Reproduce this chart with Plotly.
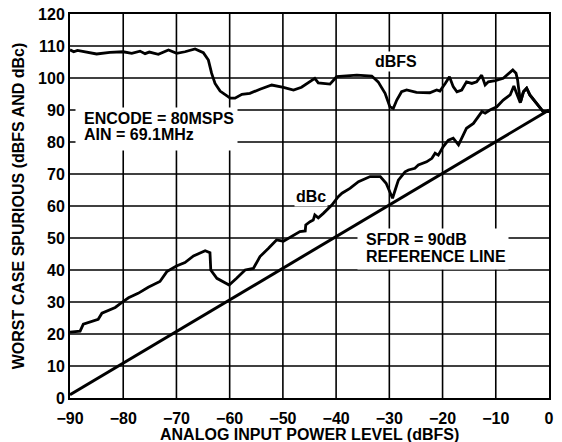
import plotly.graph_objects as go

# ---- data ----
dbfs_x = [-90.0, -89.3, -88.6, -87.0, -85.0, -82.5, -80.0, -78.4, -76.85, -75.9, -75.1, -73.4,
          -71.5, -69.95, -68.4, -66.5, -64.95, -64.0, -63.4, -62.75, -61.8, -59.9, -59.0,
          -57.7, -56.2, -54.3, -52.1, -49.9, -48.0, -46.5, -45.2, -44.0, -43.35, -42.4,
          -41.15, -39.9, -36.1, -33.3, -32.1, -30.8, -29.9, -29.25, -28.6, -27.7, -26.75,
          -24.9, -22.4, -21.1, -20.5, -19.5, -18.7, -18.0, -17.3, -16.4, -15.5, -14.5,
          -13.6, -12.65, -12.0, -11.4, -10.1, -8.6, -7.65, -6.8, -6.2, -5.9, -5.75, -5.6,
          -5.35, -4.8, -4.2, -3.6, -2.6, -1.7, -1.1, 0.0]
dbfs_y = [108.8, 108.2, 108.6, 108.2, 107.5, 108.0, 108.2, 107.7, 108.4, 107.6, 108.1, 107.4,
          108.75, 107.7, 108.2, 109.1, 107.9, 105.6, 101.5, 98.3, 95.9, 93.7, 93.7,
          94.9, 95.2, 96.5, 97.8, 97.1, 96.25, 97.1, 98.5, 99.9, 98.5, 98.3,
          98.1, 100.4, 100.9, 100.6, 98.8, 95.2, 91.0, 90.5, 93.1, 95.7, 96.25,
          95.5, 95.4, 96.25, 95.9, 98.3, 100.4, 97.3, 95.7, 96.25, 98.8, 98.3,
          98.8, 100.9, 97.8, 98.8, 99.2, 99.9, 101.2, 102.5, 101.5, 99.4, 97.3, 94.7,
          92.5, 95.7, 96.8, 94.7, 92.6, 90.5, 89.5, 89.5]

dbc_x = [-90.0, -88.1, -87.5, -86.2, -84.7, -84.0, -83.1, -81.5, -80.3, -79.0, -77.2, -75.3,
         -73.1, -71.8, -70.0, -68.4, -66.8, -64.6, -63.7, -63.55, -62.4, -61.2, -60.1,
         -58.7, -57.1, -55.55, -54.3, -52.7, -51.2, -49.9, -48.5, -46.8, -45.8, -45.7,
         -44.9, -44.3, -44.0, -43.35, -42.4, -40.8, -39.6, -38.9, -37.4, -35.8, -33.6,
         -31.7, -30.6, -29.9, -29.4, -28.9, -28.3, -27.05, -26.4, -25.2, -24.55, -23.0,
         -22.0, -21.4, -20.8, -19.9, -18.9, -18.0, -17.0, -16.1, -15.5, -14.2, -12.6,
         -12.0, -11.1, -9.8, -8.6, -7.3, -6.6, -6.2, -5.4, -4.8, -4.2, -3.6, -2.6, -1.7,
         -1.1, 0.0]
dbc_y = [20.6, 20.9, 23.1, 23.8, 24.6, 26.5, 27.2, 28.3, 29.8, 31.3, 32.7, 34.6,
         36.4, 39.5, 41.25, 42.3, 44.4, 46.0, 45.4, 40.0, 37.4, 36.4, 35.3,
         37.4, 40.0, 40.5, 44.2, 46.8, 49.4, 49.0, 50.4, 52.0, 52.2, 54.1,
         55.1, 55.6, 57.2, 56.3, 57.7, 60.3, 62.9, 64.0, 65.5, 67.6, 69.2,
         69.2, 67.1, 64.5, 62.4, 65.0, 68.1, 70.7, 71.25, 71.8, 72.8, 73.8,
         74.9, 76.5, 75.9, 78.5, 80.6, 81.2, 79.1, 82.2, 84.3, 85.8, 89.5,
         89.0, 90.0, 91.0, 93.1, 94.7, 97.5, 95.7, 92.3, 95.7, 96.8, 94.7, 92.6, 90.5,
         89.5, 89.5]

ref_x = [-90, 0]
ref_y = [1, 90]

x_ticks = [-90, -80, -70, -60, -50, -40, -30, -20, -10, 0]
y_ticks = [0, 10, 20, 30, 40, 50, 60, 70, 80, 90, 100, 110, 120]

FONT = "Liberation Sans, Arial, Helvetica, sans-serif"
FS = 16

fig = go.Figure()

# grid drawn as a line trace from the tick arrays (beneath the curves)
grid_x, grid_y = [], []
for xv in x_ticks[1:-1]:
    grid_x += [xv, xv, None]
    grid_y += [y_ticks[0], y_ticks[-1], None]
for yv in y_ticks[1:-1]:
    grid_x += [x_ticks[0], x_ticks[-1], None]
    grid_y += [yv, yv, None]
fig.add_trace(go.Scatter(x=grid_x, y=grid_y, mode="lines", connectgaps=False,
                         line=dict(color="black", width=1.6),
                         showlegend=False, hoverinfo="skip"))

line_style = dict(color="black", width=2.8)
fig.add_trace(go.Scatter(x=dbfs_x, y=dbfs_y, mode="lines", line=line_style,
                         name="dBFS", showlegend=False, hoverinfo="skip"))
fig.add_trace(go.Scatter(x=dbc_x, y=dbc_y, mode="lines", line=line_style,
                         name="dBc", showlegend=False, hoverinfo="skip"))
fig.add_trace(go.Scatter(x=ref_x, y=ref_y, mode="lines", line=dict(color="black", width=3),
                         name="SFDR = 90dB", showlegend=False, hoverinfo="skip"))

txt = dict(family=FONT, size=FS, color="black", weight="bold")

# white label boxes covering the grid (blank annotations of fixed size)
def box(xc, yc, w, h):
    fig.add_annotation(x=xc, y=yc, xref="x", yref="y", text=" ", showarrow=False,
                       width=w, height=h, bgcolor="white", borderpad=0,
                       xanchor="center", yanchor="middle", font=txt)

box(-73.75, 84.05, 161, 42)
box(-21.8, 46.55, 150, 40)

def label(text, x, y, xanchor="left", bg=None):
    fig.add_annotation(x=x, y=y, xref="x", yref="y", text=text, showarrow=False,
                       xanchor=xanchor, yanchor="middle", font=txt,
                       bgcolor=bg, borderpad=1)

label("ENCODE = 80MSPS", -87.75, 87.3)
label("AIN = 69.1MHz", -87.75, 82.5)
label("SFDR = 90dB", -34.75, 49.4)
label("REFERENCE LINE", -34.75, 44.2)
label("dBFS", -28.7, 105.3, xanchor="center", bg="white")
label("dBc", -44.7, 63.1, xanchor="center", bg="white")

# x-axis title as a paper annotation for exact vertical placement
fig.add_annotation(x=0.5, y=0, xref="paper", yref="paper", yshift=-36,
                   text="ANALOG INPUT POWER LEVEL (dBFS)", showarrow=False,
                   xanchor="center", yanchor="middle", font=txt)

fig.update_xaxes(range=[x_ticks[0], x_ticks[-1]], tickmode="linear", tick0=x_ticks[0],
                 dtick=x_ticks[1] - x_ticks[0],
                 showgrid=False, zeroline=False,
                 showline=True, linecolor="black", linewidth=2, mirror=True,
                 tickfont=txt, ticklabelstandoff=5, ticklabeloverflow="allow")
fig.update_yaxes(range=[y_ticks[0], y_ticks[-1]], tickmode="linear", tick0=y_ticks[0],
                 dtick=y_ticks[1] - y_ticks[0],
                 showgrid=False, zeroline=False,
                 showline=True, linecolor="black", linewidth=2, mirror=True,
                 tickfont=txt, ticklabeloverflow="allow",
                 title=dict(text="WORST CASE SPURIOUS (dBFS AND dBc)", font=txt, standoff=9))

fig.update_layout(width=562, height=442, margin=dict(l=62, r=21, t=6, b=52, autoexpand=False),
                  plot_bgcolor="white", paper_bgcolor="white", font=txt)

fig.write_html("out.html")
